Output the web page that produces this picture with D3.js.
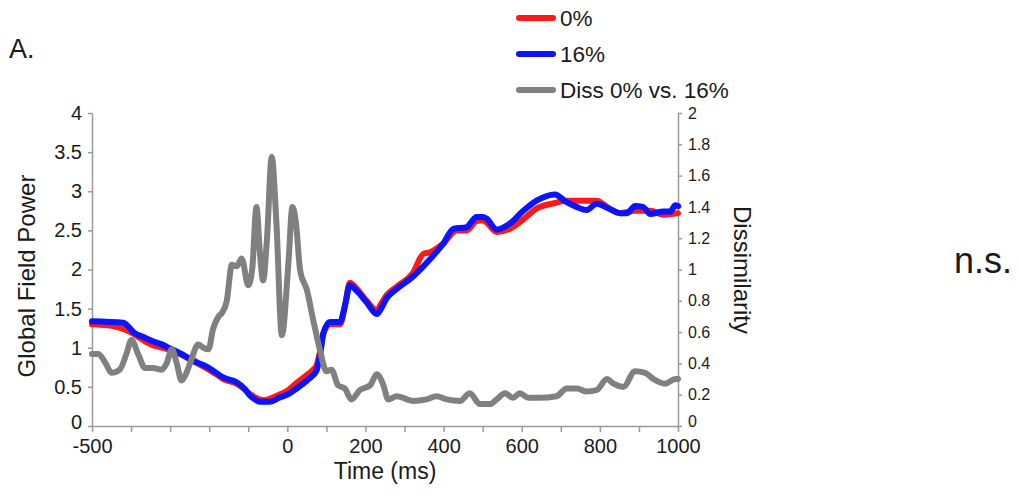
<!DOCTYPE html>
<html lang="en">

<head>
    <meta charset="UTF-8" />
    <title>Global Field Power and Dissimilarity</title>

    <script src="https://d3js.org/d3.v7.min.js"></script>

    <style>
        body {
            margin: 0;
            background: #fff;
        }

        svg text {
            font-family: "Liberation Sans", Arial, sans-serif;
            fill: #1a1a1a;
        }

        .axis path,
        .axis line {
            stroke: #9a9a9a;
            stroke-width: 1.5;
        }
    </style>

</head>

<body>

    <script>
        // Data
        var time0 = [-500, -450, -420, -394, -370, -343, -320, -300, -275, -249, -230, -207, -185, -164, -130, -110, -96, -80, -60, -44, -21, 0, 24, 50, 66, 75, 85, 92, 109, 135, 148, 160, 177, 203, 229, 240, 254, 280, 322, 348, 365, 399, 433, 459, 484, 500, 510, 536, 570, 604, 638, 685, 715, 766, 792, 818, 852, 890, 929, 963, 1000];
        var gfp0 = [1.30, 1.28, 1.24, 1.18, 1.10, 1.03, 1.00, 0.97, 0.92, 0.85, 0.80, 0.74, 0.67, 0.60, 0.54, 0.47, 0.41, 0.36, 0.33, 0.35, 0.40, 0.45, 0.55, 0.65, 0.72, 0.78, 0.98, 1.18, 1.30, 1.30, 1.55, 1.83, 1.76, 1.60, 1.48, 1.56, 1.67, 1.78, 1.96, 2.20, 2.22, 2.33, 2.50, 2.50, 2.62, 2.63, 2.60, 2.48, 2.52, 2.64, 2.78, 2.85, 2.88, 2.88, 2.88, 2.80, 2.72, 2.75, 2.75, 2.70, 2.72];

        var time16 = [-500, -420, -405, -394, -370, -343, -320, -300, -275, -249, -230, -207, -185, -164, -130, -110, -96, -80, -70, -44, -21, 0, 24, 50, 66, 75, 85, 92, 109, 135, 148, 160, 177, 203, 229, 240, 254, 280, 322, 365, 399, 425, 459, 470, 484, 500, 510, 536, 570, 604, 638, 685, 715, 740, 766, 792, 818, 852, 869, 890, 910, 929, 963, 980, 993, 1000];
        var gfp16 = [1.34, 1.32, 1.26, 1.20, 1.14, 1.08, 1.04, 0.99, 0.93, 0.86, 0.81, 0.76, 0.69, 0.62, 0.56, 0.48, 0.39, 0.33, 0.31, 0.31, 0.36, 0.40, 0.48, 0.58, 0.65, 0.71, 0.95, 1.18, 1.33, 1.33, 1.55, 1.80, 1.73, 1.58, 1.43, 1.50, 1.63, 1.75, 1.91, 2.13, 2.33, 2.52, 2.54, 2.60, 2.67, 2.67, 2.65, 2.51, 2.59, 2.75, 2.88, 2.96, 2.86, 2.80, 2.76, 2.84, 2.79, 2.72, 2.72, 2.81, 2.80, 2.71, 2.74, 2.74, 2.82, 2.81];

        var timeDiss = [-500, -484, -465, -450, -429, -412, -399, -382, -364, -343, -322, -309, -296, -283, -271, -260, -249, -228, -215, -202, -190, -176, -168, -155, -142, -130, -117, -100, -90, -79, -70, -62, -52, -40, -28, -14, 3, 13, 22, 33, 50, 66, 84, 100, 113, 130, 147, 164, 186, 212, 229, 246, 258, 280, 322, 356, 382, 408, 442, 467, 493, 519, 536, 557, 578, 595, 617, 646, 689, 715, 741, 766, 792, 818, 835, 860, 890, 916, 937, 967, 993, 1000];
        var diss = [0.46, 0.46, 0.40, 0.34, 0.36, 0.46, 0.55, 0.46, 0.37, 0.37, 0.36, 0.40, 0.49, 0.40, 0.29, 0.33, 0.40, 0.52, 0.50, 0.49, 0.62, 0.70, 0.72, 0.80, 1.03, 1.02, 1.07, 0.90, 1.00, 1.40, 1.10, 0.93, 1.20, 1.72, 1.30, 0.58, 1.05, 1.40, 1.30, 0.99, 0.87, 0.68, 0.48, 0.35, 0.36, 0.26, 0.24, 0.17, 0.23, 0.26, 0.33, 0.26, 0.17, 0.19, 0.16, 0.17, 0.19, 0.17, 0.16, 0.21, 0.14, 0.14, 0.17, 0.21, 0.18, 0.21, 0.18, 0.18, 0.19, 0.24, 0.24, 0.22, 0.23, 0.30, 0.27, 0.25, 0.35, 0.34, 0.30, 0.27, 0.30, 0.30];

        var timeTicks = d3.range(-500, 1001, 100);
        var timeLabels = [-500, 0, 200, 400, 600, 800, 1000];
        var gfpTicks = [0, 0.5, 1, 1.5, 2, 2.5, 3, 3.5, 4];
        var dissTicks = [0, 0.2, 0.4, 0.6, 0.8, 1, 1.2, 1.4, 1.6, 1.8, 2];

        var legendNames = ["0%", "16%", "Diss 0% vs. 16%"];
        var colours = ["#ff1a1a", "#0a14ff", "#808080"];

        // Set up the SVG
        var w = 1019;
        var h = 500;

        var svg = d3.select("body")
            .append("svg")
            .attr("width", w)
            .attr("height", h);

        var xScale = d3.scaleLinear()
            .domain([-500, 1000])
            .range([92, 678]);

        var yLeft = d3.scaleLinear()
            .domain([0, 4])
            .range([426, 113]);

        var yRight = d3.scaleLinear()
            .domain([0, 2])
            .range([426, 113]);

        // Axes
        var gx = svg.append("g")
            .attr("class", "axis")
            .attr("transform", "translate(0, 426)")
            .call(d3.axisBottom(xScale)
                .tickValues(timeTicks)
                .tickSize(6)
                .tickSizeOuter(0)
                .tickPadding(7)
                .tickFormat(function (d) { return timeLabels.indexOf(d) >= 0 ? d : ""; }));
        gx.selectAll("text").style("font-size", "20px");

        var gl = svg.append("g")
            .attr("class", "axis")
            .attr("transform", "translate(92, 0)")
            .call(d3.axisLeft(yLeft)
                .tickValues(gfpTicks)
                .tickSize(4)
                .tickSizeOuter(0)
                .tickPadding(6)
                .tickFormat(function (d) { return String(d); }));
        gl.selectAll("text").style("font-size", "20px");
        // lift the bottom label a little so it clears the time labels
        gl.selectAll(".tick text").filter(function (d) { return d === 0; }).attr("dy", "0.1em");

        var gr = svg.append("g")
            .attr("class", "axis")
            .attr("transform", "translate(678, 0)")
            .call(d3.axisRight(yRight)
                .tickValues(dissTicks)
                .tickSize(4)
                .tickSizeOuter(0)
                .tickPadding(6)
                .tickFormat(function (d) { return String(d); }));
        gr.selectAll("text").style("font-size", "16px");
        gr.selectAll(".tick text").filter(function (d) { return d === 0; }).attr("dy", "0.05em");

        // Axis titles
        svg.append("text")
            .attr("text-anchor", "middle")
            .attr("x", 385)
            .attr("y", 479)
            .style("font-size", "23px")
            .text("Time (ms)");

        svg.append("text")
            .attr("text-anchor", "middle")
            .attr("transform", "translate(35, 276) rotate(-90)")
            .style("font-size", "24px")
            .text("Global Field Power");

        svg.append("text")
            .attr("text-anchor", "middle")
            .attr("transform", "translate(734, 270) rotate(90)")
            .style("font-size", "24px")
            .text("Dissimilarity");

        // Lines
        var series = [
            { t: time0, v: gfp0, y: yLeft },
            { t: time16, v: gfp16, y: yLeft },
            { t: timeDiss, v: diss, y: yRight }
        ];

        series.forEach(function (s, i) {
            var line = d3.line()
                .x(function (d) { return xScale(d[0]); })
                .y(function (d) { return s.y(d[1]); })
                .curve(d3.curveMonotoneX);

            svg.append("path")
                .datum(d3.zip(s.t, s.v))
                .attr("d", line)
                .attr("fill", "none")
                .attr("stroke", colours[i])
                .attr("stroke-width", 6)
                .attr("stroke-linejoin", "round")
                .attr("stroke-linecap", "round");
        });

        // Legend
        var legend = svg.append("g");
        legendNames.forEach(function (name, i) {
            var ly = 18 + i * 36;
            legend.append("line")
                .attr("x1", 519)
                .attr("x2", 553)
                .attr("y1", ly)
                .attr("y2", ly)
                .attr("stroke", colours[i])
                .attr("stroke-width", 6)
                .attr("stroke-linecap", "round");
            legend.append("text")
                .attr("x", 560)
                .attr("y", ly + 8)
                .style("font-size", "22.5px")
                .text(name);
        });

        // Panel letter and significance note
        svg.append("text")
            .attr("x", 9)
            .attr("y", 58)
            .style("font-size", "27px")
            .text("A.");

        svg.append("text")
            .attr("x", 954)
            .attr("y", 273)
            .style("font-size", "36px")
            .text("n.s.");

    </script>

</body>

</html>
